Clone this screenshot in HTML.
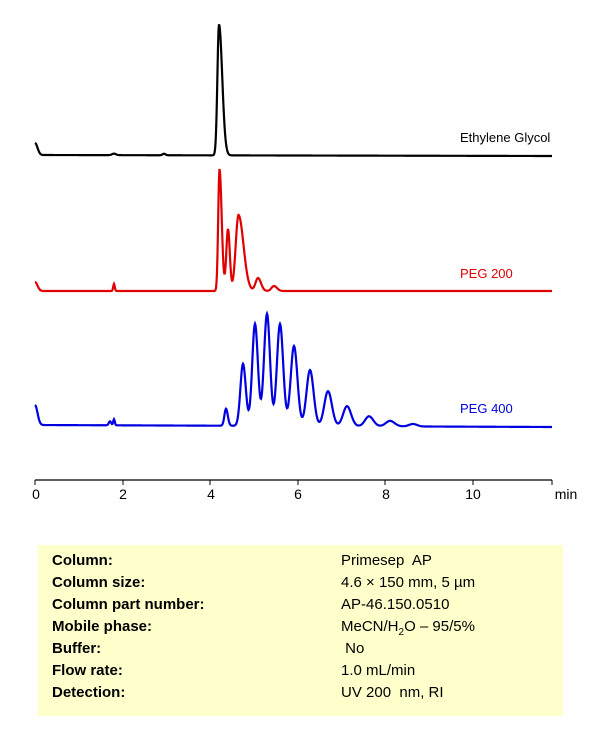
<!DOCTYPE html>
<html><head><meta charset="utf-8"><style>
body{margin:0;background:#fff;width:611px;height:738px;overflow:hidden;font-family:"Liberation Sans",sans-serif}
svg{position:absolute;left:0;top:0}
.box{position:absolute;left:38px;top:545px;width:525px;height:171px;background:#ffffcc}
.r{position:absolute;font-size:15px;color:#000}
.l{left:52px;font-weight:bold}
.v{left:341px}
</style></head><body>
<div class="box"></div>
<svg width="611" height="738" id="s">
<g font-family="Liberation Sans, sans-serif" font-size="13">
<text x="460" y="142" fill="#000">Ethylene Glycol</text>
<text x="460" y="278" fill="#e00000">PEG 200</text>
<text x="460" y="413" fill="#0000e0">PEG 400</text>
</g>
<line x1="35" y1="480" x2="552" y2="480" stroke="#000" stroke-width="1.2"/>
<g stroke="#000" stroke-width="1">
<line x1="35" y1="480" x2="35" y2="485"/><line x1="123" y1="480" x2="123" y2="485"/><line x1="210" y1="480" x2="210" y2="485"/><line x1="298" y1="480" x2="298" y2="485"/><line x1="385" y1="480" x2="385" y2="485"/><line x1="473" y1="480" x2="473" y2="485"/><line x1="552" y1="480" x2="552" y2="485"/>
</g>
<g font-family="Liberation Sans, sans-serif" font-size="14" text-anchor="middle" fill="#000">
<text x="36" y="499">0</text><text x="123" y="499">2</text><text x="211" y="499">4</text><text x="298" y="499">6</text><text x="386" y="499">8</text><text x="473" y="499">10</text><text x="566" y="499">min</text>
</g>
<path id="pk" fill="none" stroke="#000" stroke-width="2.2"/>
<path id="pr" fill="none" stroke="#e00000" stroke-width="2.2"/>
<path id="pb" fill="none" stroke="#0000e0" stroke-width="2.2"/>
</svg>
<div class="r l" style="top:552px">Column:</div><div class="r v" style="top:552px">Primesep&nbsp; AP</div>
<div class="r l" style="top:574px">Column size:</div><div class="r v" style="top:574px">4.6 × 150 mm, 5 µm</div>
<div class="r l" style="top:596px">Column part number:</div><div class="r v" style="top:596px">AP-46.150.0510</div>
<div class="r l" style="top:618px">Mobile phase:</div><div class="r v" style="top:618px">MeCN/H<sub style="font-size:10px">2</sub>O – 95/5%</div>
<div class="r l" style="top:640px">Buffer:</div><div class="r v" style="top:640px">&nbsp;No</div>
<div class="r l" style="top:662px">Flow rate:</div><div class="r v" style="top:662px">1.0 mL/min</div>
<div class="r l" style="top:684px">Detection:</div><div class="r v" style="top:684px">UV 200&nbsp; nm, RI</div>
<script>
function g(x,c,h,sl,sr){var s=x<c?sl:sr;return h*Math.exp(-0.5*Math.pow((x-c)/s,2));}
function mk(id,base,base2,peaks){
 var d="";for(var x=35;x<=552;x+=0.5){var b=base+(base2-base)*(x-35)/517;var y=b;
 for(var i=0;i<peaks.length;i++){var p=peaks[i];y-=g(x,p[0],p[1],p[2],p[3]);}
 d+=(x==35?"M":"L")+x+" "+y.toFixed(2);}
 document.getElementById(id).setAttribute("d",d);}
mk("pk",155,156,[[35,12,0.6,2.5],[219,131,1.6,3.2],[114,1.5,2,2],[164,1.5,1.5,1.5]]);
mk("pr",291,291,[[35,9,0.6,2.5],[114,7,0.8,0.8],[219.5,122,1.3,2.2],[228,62,1.7,1.8],[238.5,76,2.8,5],[258,13,2.5,3],[274,5,2.5,3]]);
mk("pb",425,427,[[35,20,0.6,2.5],[110,4,1.2,1.2],[114,6,0.8,0.8],[226,17,1.6,1.8],[243,62,2.6,2.8],[255,102,2.8,2.9],[267,112,3,3],[280,102,3.1,3.2],[294,80,3.3,3.4],[310,56,3.5,3.6],[328,35,3.7,3.9],[347,20,3.9,4.1],[369,10,4,4.3],[390,5.5,4.2,4.6],[413,2.5,4,4]]);
</script>
</body></html>
